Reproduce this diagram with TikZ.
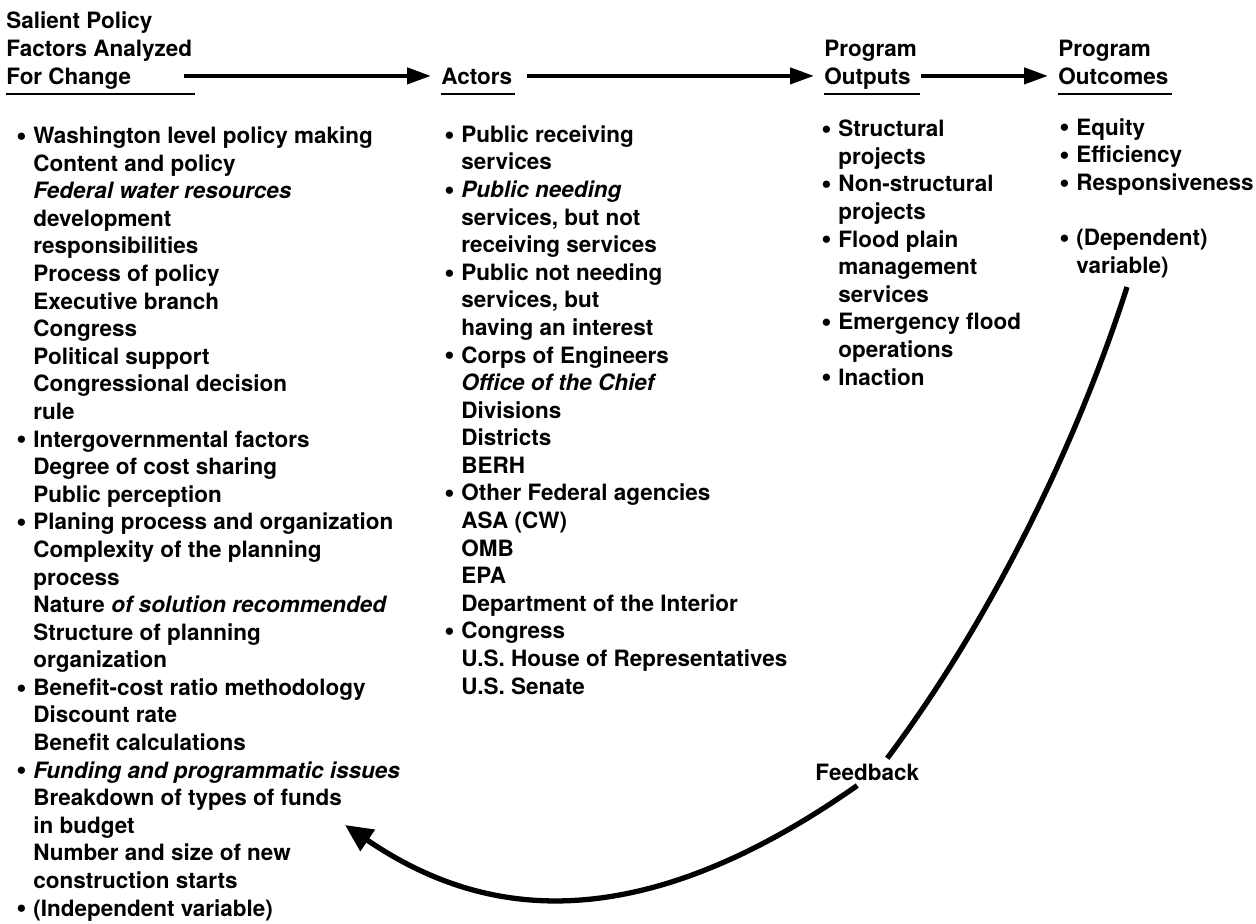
\documentclass[tikz,border=0pt]{standalone}
\usepackage{fontspec}
\setmainfont{TeX Gyre Heros}
\usetikzlibrary{arrows.meta,positioning}

\newcommand\bitem{\makebox[0.34cm][l]{\raisebox{-0.08em}{\scalebox{1.3}{\textbullet}}}}
\newcommand\sitem{\hspace*{0.34cm}}

\begin{document}
\begin{tikzpicture}[x=0.02cm,y=-0.02cm,
    every node/.style={inner sep=0pt,font=\fontsize{12.8}{15.7}\selectfont\bfseries},
    hdr/.style={align=left,anchor=base west},
    lst/.style={align=left,anchor=base west},
    flow/.style={line width=2.4pt,-{Triangle[length=0.48cm,width=0.32cm]},shorten >=0.2cm},
    uline/.style={line width=1.6pt},
    fback/.style={line width=3pt}]
  \useasboundingbox (0,0) rectangle (1256,923);

  % column heads (anchored on their last line)
  \node[hdr] (salient)  at (6,84)    {Salient Policy\\Factors Analyzed\\For Change};
  \node[hdr] (actors)   at (441,84)  {Actors};
  \node[hdr] (outputs)  at (824,84)  {Program\\Outputs};
  \node[hdr] (outcomes) at (1058,84) {Program\\Outcomes};

  \coordinate (ul) at (0,94);
  \foreach \n in {salient,actors,outputs,outcomes}
    \draw[uline] (\n.west |- ul) -- ([xshift=0.06cm]\n.east |- ul);

  \draw[flow] ([xshift=-0.16cm]salient.east |- actors.west) -- (actors.west);
  \draw[flow] ([xshift=0.3cm]actors.east) -- (outputs.west |- actors.west);
  \draw[flow] ([xshift=0.08cm]outputs.east |- actors.west) -- (outcomes.west |- actors.west);

  % lists (anchored on their last line)
  \node[lst] (factors) at (16,916) {%
    \bitem Washington level policy making\\
    \sitem Content and policy\\
    \sitem \textit{Federal water resources}\\
    \sitem development\\
    \sitem responsibilities\\
    \sitem Process of policy\\
    \sitem Executive branch\\
    \sitem Congress\\
    \sitem Political support\\
    \sitem Congressional decision\\
    \sitem rule\\
    \bitem Intergovernmental factors\\
    \sitem Degree of cost sharing\\
    \sitem Public perception\\
    \bitem Planing process and organization\\
    \sitem Complexity of the planning\\
    \sitem process\\
    \sitem Nature \textit{of solution recommended}\\
    \sitem Structure of planning\\
    \sitem organization\\
    \bitem Benefit-cost ratio methodology\\
    \sitem Discount rate\\
    \sitem Benefit calculations\\
    \bitem \textit{Funding and programmatic issues}\\
    \sitem Breakdown of types of funds\\
    \sitem in budget\\
    \sitem Number and size of new\\
    \sitem construction starts\\
    \bitem (Independent variable)};

  \node[lst] (actlist) at (444,694) {%
    \bitem Public receiving\\
    \sitem services\\
    \bitem \textit{Public needing}\\
    \sitem services, but not\\
    \sitem receiving services\\
    \bitem Public not needing\\
    \sitem services, but\\
    \sitem having an interest\\
    \bitem Corps of Engineers\\
    \sitem \textit{Office of the Chief}\\
    \sitem Divisions\\
    \sitem Districts\\
    \sitem BERH\\
    \bitem Other Federal agencies\\
    \sitem ASA (CW)\\
    \sitem OMB\\
    \sitem EPA\\
    \sitem Department of the Interior\\
    \bitem Congress\\
    \sitem U.S. House of Representatives\\
    \sitem U.S. Senate};

  \node[lst] (outlist) at (821,385) {%
    \bitem Structural\\
    \sitem projects\\
    \bitem Non-structural\\
    \sitem projects\\
    \bitem Flood plain\\
    \sitem management\\
    \sitem services\\
    \bitem Emergency flood\\
    \sitem operations\\
    \bitem Inaction};

  \node[lst] (outclist) at (1059,273) {%
    \bitem Equity\\
    \bitem Efficiency\\
    \bitem Responsiveness\\
    ~\\
    \bitem (Dependent)\\
    \sitem variable)};

  % feedback loop
  \node[inner sep=0.1cm,anchor=base west] (fb) at (810,780) {Feedback};
  \coordinate (fbstart) at (1127,287);
  \coordinate (fbtip) at (345,825);
  \draw[fback] (fbstart) .. controls +(-52,162) and +(102,-136) .. ([xshift=0.4cm]fb.north);
  \draw[fback,-{Triangle[length=0.55cm,width=0.5cm]}] ([xshift=-0.2cm]fb.south)
    .. controls +(-235,165) and +(125,85) .. (fbtip);
\end{tikzpicture}
\end{document}
